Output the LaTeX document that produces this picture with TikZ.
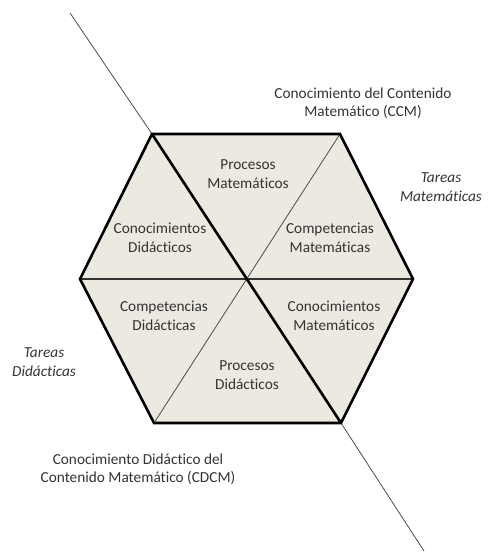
\documentclass[tikz,border=0pt]{standalone}
\usepackage{fontspec}
\setmainfont[Ligatures=CommonOff]{Carlito}
\begin{document}
\begin{tikzpicture}[x=1pt,y=-1pt,
  lbl/.style={align=center,text=black!80,font=\fontsize{15.3}{18.5}\selectfont,inner sep=0pt},
  ilbl/.style={lbl,font=\fontsize{15.3}{18.5}\selectfont\itshape},
  thickline/.style={line width=2.6pt,line join=miter},
  thinline/.style={line width=0.8pt,draw=black!70},
  midline/.style={line width=1.1pt,draw=black!80}]
\useasboundingbox (0,0) rectangle (488,552);
\coordinate (L) at (80,279);
\coordinate (TL) at (152,134);
\coordinate (TR) at (340,134);
\coordinate (R) at (413,279);
\coordinate (BR) at (341,423);
\coordinate (BL) at (154,423);
\coordinate (C) at (246,279);
\coordinate (E1) at (70,13);
\coordinate (E2) at (424,551);
\fill[fill={rgb,255:red,235;green,233;blue,224}] (L) -- (TL) -- (TR) -- (R) -- (BR) -- (BL) -- cycle;
\draw[midline] (L) -- (R);
\draw[thinline] (TR) -- (BL);
\draw[thinline] (E1) -- (TL);
\draw[thinline] (BR) -- (E2);
\draw[thickline] (TL) -- (BR);
\draw[thickline] (L) -- (TL) -- (TR) -- (R) -- (BR) -- (BL) -- cycle;
\node[lbl] (pm) at (248,174) {Procesos\\Matemáticos};
\node[lbl] (cd) at (160,238) {Conocimientos\\Didácticos};
\node[lbl] (cm) at (330,238) {Competencias\\Matemáticas};
\node[lbl] (cpd) at (164,316) {Competencias\\Didácticas};
\node[lbl] (cnm) at (334,316) {Conocimientos\\Matemáticos};
\node[lbl] (pd) at (247,375) {Procesos\\Didácticos};
\node[lbl] (ccm) at (363,103) {Conocimiento del Contenido\\Matemático (CCM)};
\node[ilbl] (tm) at (441,187) {Tareas\\Matemáticas};
\node[ilbl] (td) at (44,362) {Tareas\\Didácticas};
\node[lbl] (cdcm) at (138,469) {Conocimiento Didáctico del\\Contenido Matemático (CDCM)};
\end{tikzpicture}
\end{document}
